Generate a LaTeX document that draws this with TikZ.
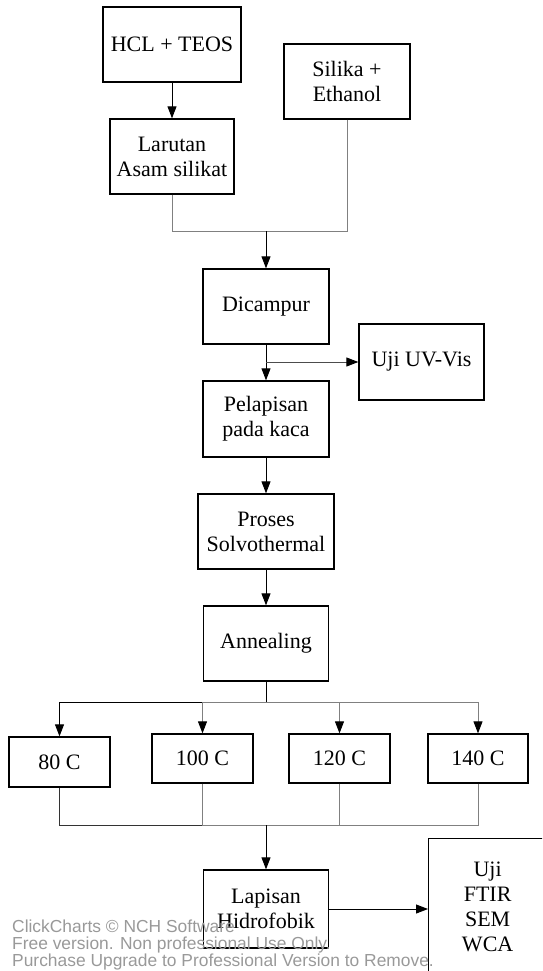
\documentclass[tikz,border=0pt]{standalone}
\usepackage{fontspec}
\setmainfont{Liberation Serif}
\newfontfamily\wmfont{Liberation Sans}
\usetikzlibrary{arrows.meta}
\begin{document}
\begin{tikzpicture}[x=1pt,y=-1pt,
  box/.style={draw, line width=1.3pt, inner sep=0pt, align=center,
    font=\fontsize{22}{25}\selectfont},
  arr/.style={line width=0.9pt, -{Triangle[length=12pt,width=9pt,color=black]}},
  gline/.style={line width=0.9pt, draw=black!50},
  bline/.style={line width=0.9pt},
  wm/.style={anchor=base west, inner sep=0pt, text=black!40,
    font=\wmfont\fontsize{17.4}{18}\selectfont}]
\useasboundingbox (0,0) rectangle (542,971);
\clip (0,0) rectangle (542,971);

\node[box, minimum width=138pt, minimum height=75pt] (hcl) at (172,44.5) {HCL + TEOS};
\node[box, minimum width=126pt, minimum height=75pt] (sil) at (347,81.5) {Silika +\\Ethanol};
\node[box, minimum width=124pt, minimum height=75pt] (lar) at (172,156.5) {Larutan\\Asam silikat};
\node[box, minimum width=126pt, minimum height=75pt] (dic) at (266,306.5) {Dicampur};
\node[box, minimum width=125pt, minimum height=76pt] (uv) at (421.5,362) {Uji UV-Vis};
\node[box, minimum width=126pt, minimum height=76pt] (pel) at (266,419) {Pelapisan\\pada kaca};
\node[box, minimum width=136pt, minimum height=75pt] (pro) at (266,531.5) {Proses\\Solvothermal};
\node[box, minimum width=125pt, minimum height=75pt] (ann) at (266,643.5) {Annealing};
\node[box, minimum width=101pt, minimum height=50pt] (c80) at (59.5,762) {80 C};
\node[box, minimum width=101pt, minimum height=49pt] (c100) at (202.5,758.5) {100 C};
\node[box, minimum width=101pt, minimum height=49pt] (c120) at (339.5,758.5) {120 C};
\node[box, minimum width=100pt, minimum height=49pt] (c140) at (478,758.5) {140 C};
\node[box, minimum width=125pt, minimum height=78pt] (lap) at (266,909) {Lapisan\\Hidrofobik};
\node[box, anchor=north west, text width=118pt, inner xsep=0pt, inner ysep=23pt] (uji) at (428,838) {Uji\\FTIR\\SEM\\WCA\\[60pt]};

\coordinate (j1) at (266,231);
\coordinate (b) at (266,702);
\coordinate (m) at (266,825);

\draw[arr] (hcl) -- (lar);
\draw[gline] (lar.south) |- (j1);
\draw[gline] (sil.south) |- (j1);
\draw[arr] (j1) -- (dic.north);
\draw[arr] (dic) -- (pel);
\draw[arr, draw=black!70] (dic.south |- uv.west) -- (uv.west);
\draw[arr] (pel) -- (pro);
\draw[arr] (pro) -- (ann);

\draw[bline] (ann.south) -- (b);
\draw[arr] (b) -| (c80.north);
\draw[arr, draw=black!50] (b) -| (c100.north);
\draw[arr, draw=black!50] (b) -| (c120.north);
\draw[arr, draw=black!50] (b) -| (c140.north);

\draw[bline, draw=black!80] (c80.south) |- (m);
\draw[gline] (c100.south) |- (m);
\draw[gline] (c120.south) |- (m);
\draw[gline] (c140.south) |- (m);
\draw[arr] (m) -- (lap.north);
\draw[arr] (lap.east) -- (uji.west |- lap.east);

\node[wm] (wm1) at (12,932) {ClickCharts © NCH Software};
\node[wm] (wm2) at (12,949) {Free version. Non professional Use Only.};
\node[wm] (wm3) at (12,966) {Purchase Upgrade to Professional Version to Remove.};
\end{tikzpicture}
\end{document}
